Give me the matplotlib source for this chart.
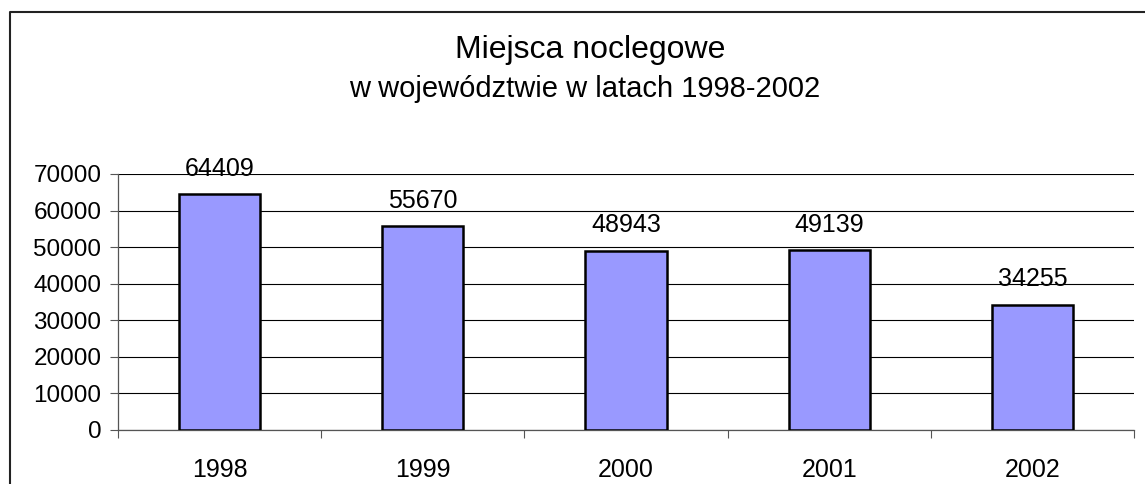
import matplotlib
matplotlib.use("Agg")
import matplotlib.pyplot as plt
from matplotlib.lines import Line2D
import numpy as np

years = ["1998", "1999", "2000", "2001", "2002"]
beds = [64409, 55670, 48943, 49139, 34255]
y_ticks = [0, 10000, 20000, 30000, 40000, 50000, 60000, 70000]
title_lines = ["Miejsca noclegowe", "w województwie w latach 1998-2002"]

plt.rcParams["font.family"] = ["Liberation Sans", "DejaVu Sans"]

W, H = 1145, 484
fig = plt.figure(figsize=(W / 100, H / 100), dpi=100)
fig.patch.set_facecolor("white")

ax = fig.add_axes([118 / W, 1 - 430 / H, (1134 - 118) / W, (430 - 174) / H])

x = np.arange(len(years))
ax.bar(x, beds, width=0.4, color="#9999FF", edgecolor="black", linewidth=1.8, zorder=3)

ax.set_xlim(-0.5, len(years) - 0.5)
ax.set_ylim(0, 70000)

# horizontal gridlines
ax.set_yticks(y_ticks)
ax.set_yticklabels([str(v) for v in y_ticks])
ax.yaxis.grid(True, color="black", linewidth=0.8, zorder=0)
ax.set_axisbelow(True)

# category labels centred under bars, ticks on the category boundaries
ax.set_xticks(x)
ax.set_xticklabels(years)
ax.set_xticks(np.arange(len(years) + 1) - 0.5, minor=True)
ax.tick_params(axis="x", which="major", length=0, pad=20, labelsize=18)
ax.tick_params(axis="x", which="minor", length=6, width=0.8, color="#555555")
ax.tick_params(axis="y", length=6, width=0.8, pad=6, labelsize=17.5, color="#555555")

for side in ("top", "right"):
    ax.spines[side].set_visible(False)
for side in ("left", "bottom"):
    ax.spines[side].set_color("#555555")
    ax.spines[side].set_linewidth(0.9)

# value labels over the bars
for xi, v in zip(x, beds):
    ax.annotate(str(v), (xi, v), xytext=(0, 13.5), textcoords="offset points",
                ha="center", va="baseline", fontsize=18, color="black")

# two-line title
fig.text(590 / W, 1 - 58 / H, title_lines[0], ha="center", va="baseline", fontsize=23)
fig.text(585 / W, 1 - 97 / H, title_lines[1], ha="center", va="baseline", fontsize=21)

# chart frame
fig.add_artist(Line2D([10 / W, 10 / W, 1.0], [0.0, 1 - 12 / H, 1 - 12 / H],
                      transform=fig.transFigure, color="#222222", linewidth=1.5))

fig.savefig("out.png", dpi=100)
